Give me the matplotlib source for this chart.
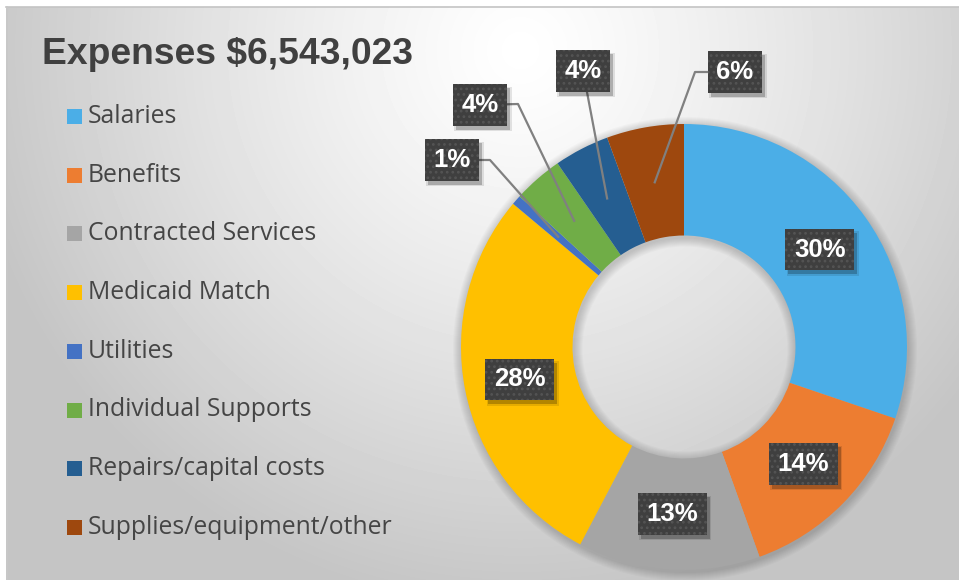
import numpy as np
import matplotlib.pyplot as plt
from matplotlib.patches import Rectangle, Wedge

plt.rcParams["hatch.linewidth"] = 1.2

# Data
categories = ["Salaries", "Benefits", "Contracted Services", "Medicaid Match",
              "Utilities", "Individual Supports", "Repairs/capital costs",
              "Supplies/equipment/other"]
shares = [30.2, 14.3, 13.2, 28.4, 0.7, 3.6, 4.0, 5.6]
pct_labels = ["30%", "14%", "13%", "28%", "1%", "4%", "4%", "6%"]
colors = ["#4BAEE7", "#ED7D31", "#A5A5A5", "#FFC000",
          "#4472C4", "#70AD47", "#255E91", "#9E480E"]
title = "Expenses $6,543,023"

W, H = 959, 580
cx, cy = 684, H - 347   # donut centre (pixels)
R = 223

fig = plt.figure(figsize=(W / 100, H / 100), dpi=100)
ax = fig.add_axes([0, 0, 1, 1])

# background radial gradient
yy, xx = np.mgrid[0:H, 0:W]
d = np.hypot(xx - 520, yy - 50)
shade = np.clip(1 - 0.22 * (d / 540) ** 1.2, 0.77, 1.0)
shade[:7, :] = 1.0
shade[:, :6] = 1.0
ax.imshow(shade, cmap="gray", vmin=0, vmax=1, extent=(0, W, 0, H),
          origin="upper", zorder=0, interpolation="bilinear")
ax.plot([6, W], [H - 7, H - 7], color="#c4c4c4", lw=1.2, zorder=1)
ax.plot([6.5, 6.5], [0, H - 7], color="#c8c8c8", lw=1.2, zorder=1)

# soft shadow around the ring
r_in = R * 0.5
for k in range(1, 10):
    ax.add_patch(Wedge((cx + 1, cy - 2), R + k, 0, 360, width=R - r_in + 2 * k,
                       facecolor="black", alpha=0.018, lw=0, zorder=1))

wedges, _ = ax.pie(shares, colors=colors, startangle=90, counterclock=False,
                   center=(cx, cy), radius=R,
                   wedgeprops=dict(width=R - r_in, linewidth=0))
for w in wedges:
    w.set_zorder(2)

labels = []


def put_label(x, y, s):
    t = ax.text(x, y, s, ha="center", va="center", fontsize=18.5,
                fontweight="bold", family="Liberation Sans", color="white",
                zorder=5,
                bbox=dict(boxstyle="square,pad=0.34", facecolor="#3f3f3f",
                          edgecolor="#545454", linewidth=0, hatch="..."))
    labels.append(t)


# label box centres and leader elbows for the small slices (pixels from top)
callouts = {4: ((452, 160), (490, 160)),
            5: ((480, 105), (518, 104)),
            6: ((583, 71), None),
            7: ((735, 72), (695, 72))}

for i, w in enumerate(wedges):
    mid = np.deg2rad((w.theta1 + w.theta2) / 2)
    ax_x = cx + 0.75 * R * np.cos(mid)
    ax_y = cy + 0.75 * R * np.sin(mid)
    if i in callouts:
        (bx, by), elbow = callouts[i]
        xs, ys = [bx], [H - by]
        if elbow is not None:
            xs.append(elbow[0])
            ys.append(H - elbow[1])
        xs.append(ax_x)
        ys.append(ax_y)
        ax.plot(xs, ys, color="#808080", lw=1.6, zorder=3)
        put_label(bx, H - by, pct_labels[i])
    else:
        put_label(ax_x, ax_y, pct_labels[i])

# legend
for i, (name, c) in enumerate(zip(categories, colors)):
    y = H - (116.5 + i * 58.7)
    ax.add_patch(Rectangle((67, y - 7.5), 15, 15, facecolor=c, lw=0, zorder=3))
    ax.text(88, y, name, ha="left", va="center", fontsize=17.8,
            family="Open Sans", color="#454545", zorder=3)

ax.text(42, H - 64, title, ha="left", va="baseline", fontsize=26.8,
        fontweight="bold", family="Liberation Sans", color="#404040", zorder=3)

ax.set_xlim(0, W)
ax.set_ylim(0, H)
ax.set_aspect("auto")
ax.axis("off")

# drop shadows under the label boxes
fig.canvas.draw()
for t in labels:
    bb = t.get_bbox_patch().get_window_extent()
    for k, a in [(0, 0.22), (1.5, 0.1)]:
        ax.add_patch(Rectangle((bb.x0 + 3 - k, bb.y0 - 4 - k), bb.width + 2 * k,
                               bb.height + 2 * k, facecolor="black", alpha=a,
                               lw=0, zorder=4))

fig.savefig("out.png", dpi=100)
